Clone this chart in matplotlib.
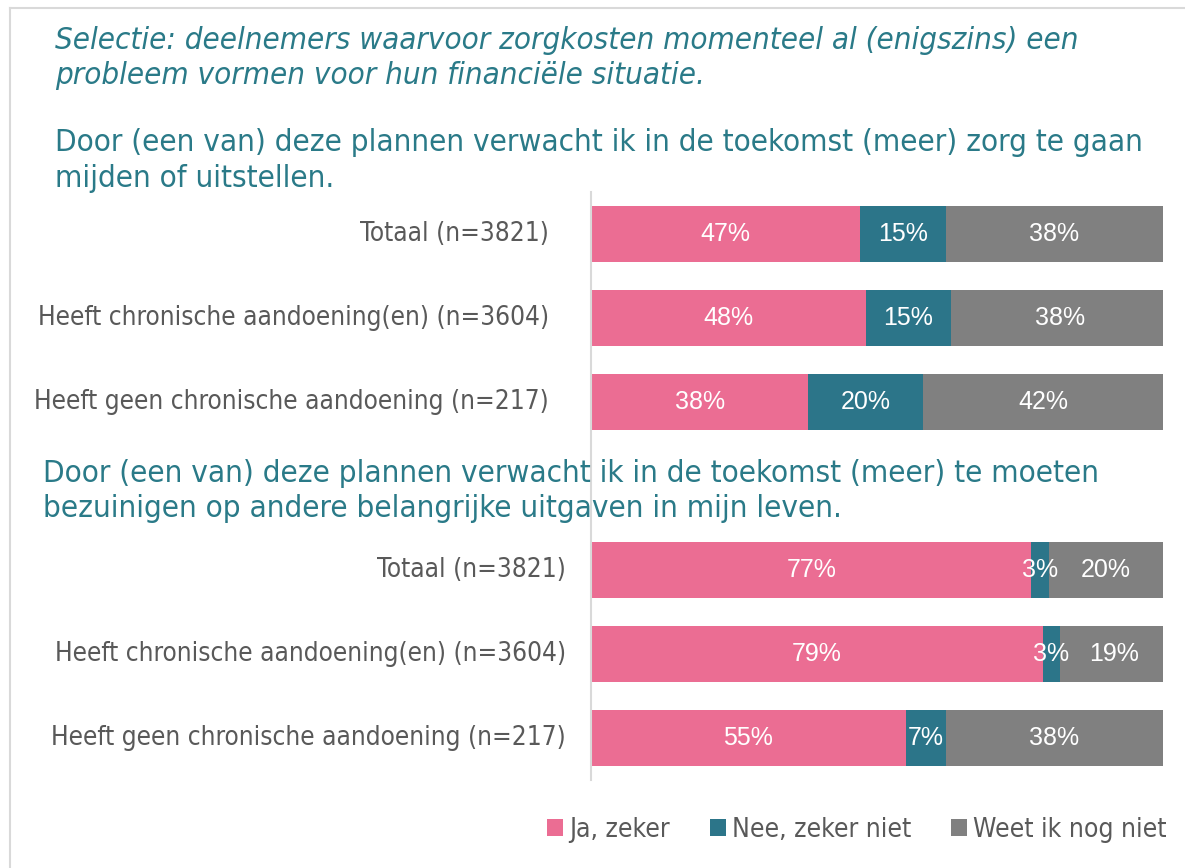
# Stacked horizontal bars: zorg mijden / bezuinigen (selectie zorgkosten probleem)
import os
import matplotlib
matplotlib.use("Agg")
import matplotlib.pyplot as plt
from matplotlib.patches import Patch
from matplotlib.lines import Line2D
from matplotlib import font_manager
from matplotlib.font_manager import FontProperties
import matplotlib.transforms as mtransforms

# ---- data ----
groups = ["Totaal (n=3821)",
          "Heeft chronische aandoening(en) (n=3604)",
          "Heeft geen chronische aandoening (n=217)"]
series = ["Ja, zeker", "Nee, zeker niet", "Weet ik nog niet"]

# vraag 1: zorg mijden of uitstellen
ja_mijden = [47, 48, 38]
nee_mijden = [15, 15, 20]
weet_mijden = [38, 38, 42]

# vraag 2: bezuinigen op andere uitgaven
ja_bezuinigen = [77, 79, 55]
nee_bezuinigen = [3, 3, 7]
weet_bezuinigen = [20, 19, 38]

subtitle = ["Selectie: deelnemers waarvoor zorgkosten momenteel al (enigszins) een",
            "probleem vormen voor hun financiële situatie."]
title_1 = ["Door (een van) deze plannen verwacht ik in de toekomst (meer) zorg te gaan",
           "mijden of uitstellen."]
title_2 = ["Door (een van) deze plannen verwacht ik in de toekomst (meer) te moeten",
           "bezuinigen op andere belangrijke uitgaven in mijn leven."]

# ---- style ----
PINK = "#EB6D93"
TEAL = "#2C7589"
GREY = "#808080"
TITLE_C = "#2A7A88"
LABEL_C = "#595959"
colors = [PINK, TEAL, GREY]

# narrow sans (Tahoma-like) if the condensed DejaVu files are there
files = {os.path.basename(f.fname): f.fname for f in font_manager.fontManager.ttflist}
reg_file = files.get("DejaVuSansCondensed.ttf")
ita_file = files.get("DejaVuSansCondensed-Oblique.ttf")


def font(size, italic=False):
    f = ita_file if italic else reg_file
    if f:
        return FontProperties(fname=f, size=size)
    return FontProperties(family="DejaVu Sans", size=size * 0.89,
                          style="italic" if italic else "normal")


NUM_FP = FontProperties(family="Liberation Sans", size=18)

W, H = 1185, 868
fig = plt.figure(figsize=(W / 100, H / 100), dpi=100)

# light frame: left and top edges only show
fig.add_artist(Line2D([10 / W, 10 / W], [0, 1 - 8 / H], color="#D9D9D9", lw=1.5))
fig.add_artist(Line2D([10 / W, 1], [1 - 8 / H, 1 - 8 / H], color="#D9D9D9", lw=1.5))

ax = fig.add_axes([591 / W, 1 - 780 / H, 572 / W, 588 / H])

# rows 0-2 = vraag 1, row 3 empty (room for title 2), rows 4-6 = vraag 2
blocks = [
    ([0, 1, 2], [ja_mijden, nee_mijden, weet_mijden], 549),
    ([4, 5, 6], [ja_bezuinigen, nee_bezuinigen, weet_bezuinigen], 566),
]
bar_h = 0.655
trans = mtransforms.blended_transform_factory(fig.transFigure, ax.transData)
for rows, vals, label_right in blocks:
    left = [0, 0, 0]
    for vs, col in zip(vals, colors):
        ax.barh(rows, vs, left=left, height=bar_h, color=col, edgecolor="none")
        for r, v, l in zip(rows, vs, left):
            ax.text(l + v / 2, r, f"{v}%", ha="center", va="center",
                    color="white", fontproperties=NUM_FP)
        left = [a + b for a, b in zip(left, vs)]
    for r, g in zip(rows, groups):
        ax.text(label_right / W, r, g, transform=trans, ha="right", va="center",
                color=LABEL_C, fontproperties=font(18.8))

ax.set_xlim(0, 100)
ax.set_ylim(6.5, -0.5)
ax.set_xticks([])
ax.set_yticks([])
for s in ["top", "right", "bottom"]:
    ax.spines[s].set_visible(False)
ax.spines["left"].set_color("#D9D9D9")
ax.spines["left"].set_linewidth(1.5)

# titles, one text per line (baselines in px from top)
for line, y in zip(subtitle, [49, 84]):
    fig.text(55 / W, 1 - y / H, line, ha="left", va="baseline", color=TITLE_C,
             fontproperties=font(22.4, italic=True))
for line, y in zip(title_1, [151, 187]):
    fig.text(55 / W, 1 - y / H, line, ha="left", va="baseline", color=TITLE_C,
             fontproperties=font(22.5))
for line, y in zip(title_2, [482, 517]):
    fig.text(43 / W, 1 - y / H, line, ha="left", va="baseline", color=TITLE_C,
             fontproperties=font(22.5))

# legend
handles = [Patch(facecolor=c, edgecolor="none") for c in colors]
fig.legend(handles, series, loc="center", bbox_to_anchor=(857 / W, 1 - 830 / H),
           ncol=3, frameon=False, handlelength=0.6, handleheight=0.6,
           handletextpad=0.25, columnspacing=1.5,
           prop=font(19), labelcolor=LABEL_C)

fig.savefig("out.png", dpi=100, facecolor="white")
